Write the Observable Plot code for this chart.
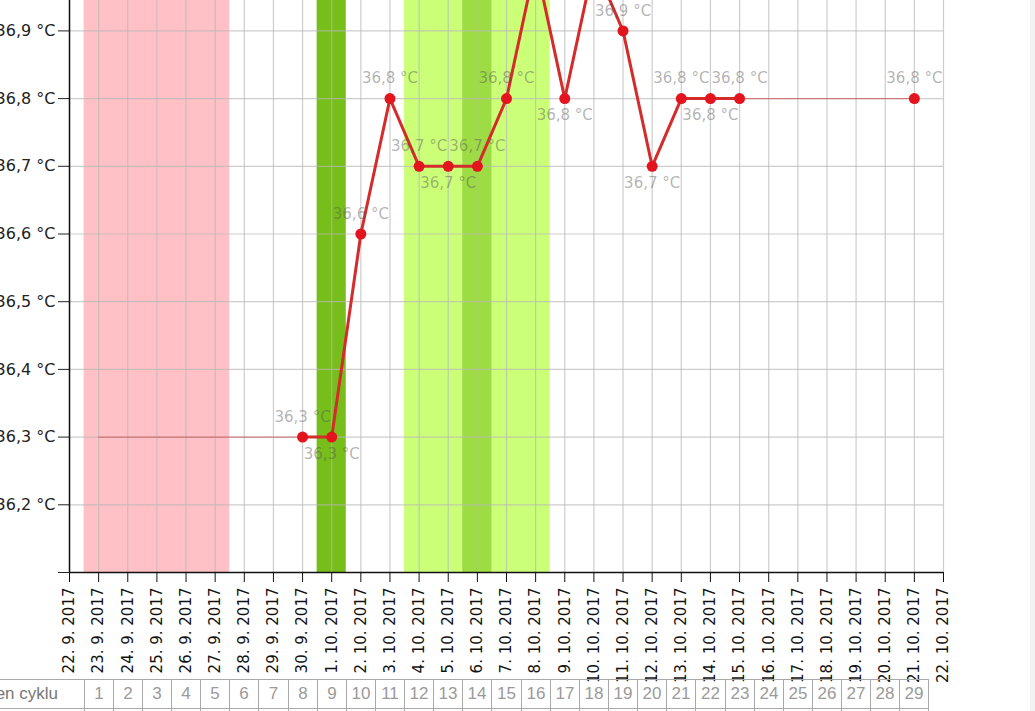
<!DOCTYPE html>
<html><head><meta charset="utf-8">
<script src="https://cdn.jsdelivr.net/npm/d3@7"></script>
<script src="https://cdn.jsdelivr.net/npm/@observablehq/plot@0.6"></script>
<style>
html,body{margin:0;padding:0;background:#fff;}
#wrap{position:relative;width:1035px;height:711px;overflow:hidden;background:#fff;}
#chart svg{position:absolute;left:-31px;top:-135px;}
.cell{position:absolute;box-sizing:border-box;border:1px solid #a8a8a8;font:17px "Liberation Sans",Arial,sans-serif;color:#9a9a9a;text-align:center;line-height:28px;height:30px;}
#strip{position:absolute;left:1030px;top:0;width:5px;height:711px;background:#f2f2f2;}
</style></head><body>
<div id="wrap"><div id="chart"></div><div id="table"></div><div id="strip"></div></div>
<script>
// ---- data ----
const axisStartDate = [2017, 8, 22];   // 22. 9. 2017
const axisEndDate = [2017, 9, 22];     // 22. 10. 2017
const cycleStartDate = [2017, 8, 23];  // cycle day 1
const cycleDays = [1,2,3,4,5,6,7,8,9,10,11,12,13,14,15,16,17,18,19,20,21,22,23,24,25,26,27,28,29];
const measuredDays = [8, 9, 10, 11, 12, 13, 14, 15, 16, 17, 18, 19, 20, 21, 22, 23, 29];
const temperatures = [36.3, 36.3, 36.6, 36.8, 36.7, 36.7, 36.7, 36.8, 37.0, 36.8, 37.0, 36.9, 36.7, 36.8, 36.8, 36.8, 36.8];
const menstruationDays = [1, 2, 3, 4, 5];
const peakDays = [9];
const fertileDays = [12, 13, 14, 15, 16];
const ovulationDays = [14];
const yTicks = [36.1, 36.2, 36.3, 36.4, 36.5, 36.6, 36.7, 36.8, 36.9, 37.0, 37.1];
const tableHeader = "Den cyklu";

// ---- helpers ----
const DAY = 864e5;
const axisStart = new Date(Date.UTC(...axisStartDate));
const axisEnd = new Date(Date.UTC(...axisEndDate));
const cycleStart = Date.UTC(...cycleStartDate);
const dateOf = n => new Date(cycleStart + (n - 1) * DAY);
const shift = (d, k) => new Date(+d + k * DAY);
const fmtT = v => v.toFixed(1).replace(".", ",") + " °C";
const fmtD = d => `${d.getUTCDate()}. ${d.getUTCMonth() + 1}. ${d.getUTCFullYear()}`;
const allDays = d3.utcDay.range(axisStart, shift(axisEnd, 1));

const points = measuredDays.map((d, i) => ({day: d, date: dateOf(d), t: temperatures[i]}));
let seg = 0;
points.forEach((p, i) => { if (i > 0 && p.day - points[i - 1].day > 1) seg++; p.seg = seg; });
const gaps = [
  {g: 0, date: dateOf(cycleDays[0]), t: points[0].t},
  {g: 0, date: points[0].date, t: points[0].t}
];
points.forEach((p, i) => {
  if (i > 0 && p.day - points[i - 1].day > 1) {
    const q = points[i - 1];
    gaps.push({g: i, date: q.date, t: q.t}, {g: i, date: p.date, t: p.t});
  }
});
points.forEach((p, i) => {
  const prev = points[i - 1], next = points[i + 1];
  const aPrev = prev && p.day - prev.day === 1 ? prev : null;
  const aNext = next && next.day - p.day === 1 ? next : null;
  let runIdx = 0, j = i;
  while (j > 0 && points[j].day - points[j - 1].day === 1 && points[j - 1].t === points[j].t) { runIdx++; j--; }
  const inRun = runIdx > 0 || (aNext && aNext.t === p.t);
  p.below = inRun ? runIdx % 2 === 1 : !!(aPrev && aNext && p.t < aPrev.t && p.t < aNext.t);
});
function ranges(days) {
  const out = [];
  days.forEach((d, i) => {
    if (i > 0 && d - days[i - 1] === 1) out[out.length - 1].x2 = shift(dateOf(d), 0.5);
    else out.push({x1: shift(dateOf(d), -0.5), x2: shift(dateOf(d), 0.5)});
  });
  return out;
}

const svgLeft = -31;
const plot = Plot.plot({
  width: 1014, height: 822,
  marginLeft: 100, marginRight: 40, marginTop: 30, marginBottom: 115,
  x: {type: "utc", domain: [axisStart, axisEnd]},
  y: {domain: [yTicks[0], yTicks[yTicks.length - 1]]},
  style: {fontFamily: "DejaVu Sans", background: "transparent", overflow: "visible"},
  marks: [
    Plot.rect(ranges(menstruationDays), {x1: "x1", x2: "x2", fill: "#ffc1c6"}),
    Plot.rect(ranges(peakDays), {x1: "x1", x2: "x2", fill: "#77be1a"}),
    Plot.rect(ranges(fertileDays), {x1: "x1", x2: "x2", fill: "#ccff78"}),
    Plot.rect(ranges(ovulationDays), {x1: "x1", x2: "x2", fill: "#9edc45"}),
    Plot.gridX(allDays, {stroke: "#b8b8b8", strokeOpacity: 0.7, strokeWidth: 1.2}),
    Plot.gridY(yTicks, {stroke: "#b8b8b8", strokeOpacity: 0.7, strokeWidth: 1.2}),
    Plot.line(gaps, {x: "date", y: "t", z: "g", stroke: "#c83030", strokeOpacity: 0.55, strokeWidth: 1.3, strokeDasharray: "2,1"}),
    Plot.line(points, {x: "date", y: "t", z: "seg", stroke: "#d42b2b", strokeWidth: 3}),
    Plot.dot(points, {x: "date", y: "t", r: 5.5, fill: "#e3141d"}),
    Plot.text(points.filter(p => !p.below), {x: "date", y: "t", text: p => fmtT(p.t), dy: -20, fill: "#555", fillOpacity: 0.45, fontSize: 15}),
    Plot.text(points.filter(p => p.below), {x: "date", y: "t", text: p => fmtT(p.t), dy: 17, fill: "#555", fillOpacity: 0.45, fontSize: 15}),
    Plot.axisY(yTicks, {tickFormat: v => v <= yTicks[0] + 1e-9 ? "" : fmtT(v), tickSize: 11, tickPadding: 3, fontSize: 16, color: "#222", label: null}),
    Plot.axisX(allDays, {tickFormat: fmtD, tickRotate: -90, tickSize: 10, tickPadding: 5, fontSize: 15, color: "#111", label: null}),
    Plot.ruleY([yTicks[0]], {stroke: "#111", strokeWidth: 1.5}),
    Plot.ruleX([axisStart], {stroke: "#111", strokeWidth: 1.5})
  ]
});
document.getElementById("chart").appendChild(plot);

// ---- cycle-day table ----
const xs = plot.scale("x");
const px = d => svgLeft + xs.apply(d);
const table = document.getElementById("table");
const rowTops = [679, 708];
const firstLeft = Math.round(px(shift(dateOf(cycleDays[0]), -0.5)));
rowTops.forEach((top, r) => {
  const h = document.createElement("div");
  h.className = "cell";
  h.style.cssText = `left:-90px;top:${top}px;width:${firstLeft + 91}px;text-align:right;padding-right:26px;color:#777;`;
  h.textContent = r === 0 ? tableHeader : "";
  table.appendChild(h);
  cycleDays.forEach(n => {
    const l = Math.round(px(shift(dateOf(n), -0.5)));
    const rr = Math.round(px(shift(dateOf(n), 0.5)));
    const c = document.createElement("div");
    c.className = "cell";
    c.style.cssText = `left:${l}px;top:${top}px;width:${rr - l + 1}px;`;
    c.textContent = r === 0 ? String(n) : "";
    table.appendChild(c);
  });
});
</script>
</body></html>
